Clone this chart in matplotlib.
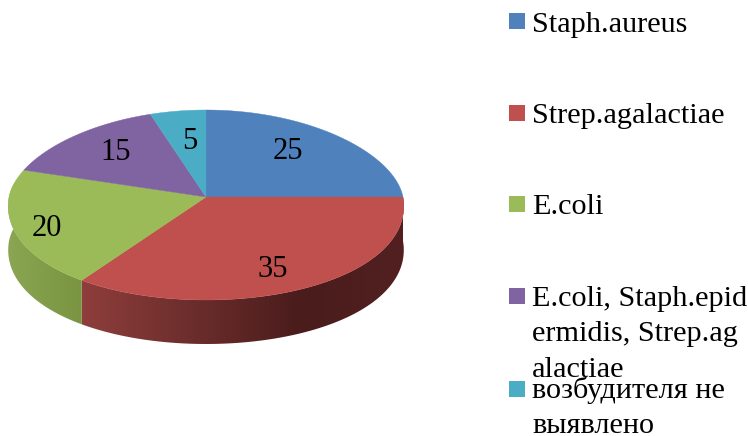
import numpy as np
import matplotlib
matplotlib.use('Agg')
import matplotlib.pyplot as plt
from matplotlib.patches import Polygon

# share of samples per pathogen, %
names = ['Staph.aureus', 'Strep.agalactiae', 'E.coli',
         'E.coli, Staph.epid\nermidis, Strep.ag\nalactiae',
         'возбудителя не\nвыявлено']
values = [25, 35, 20, 15, 5]
colors = ['#4F81BD', '#C0504D', '#9BBB59', '#8064A2', '#4BACC6']

plt.rcParams['font.family'] = ['Liberation Serif', 'DejaVu Serif']

# pie geometry in pixels; the back half looks flatter and narrower than the front
cx, cy = 206, 197
rx = 197
ry_back = 87
ry_front = 103
persp = 0.09
depth = 44


def project(theta):
    # theta runs clockwise from 12 o'clock, in degrees
    t = np.radians(theta)
    c = np.cos(t)
    ry = np.where(c > 0, ry_back, ry_front)
    return cx + rx * np.sin(t) * (1 - persp * c), cy - ry * c


# wall shading by x position, one colour ramp per visible slice
side_stops = {
    1: [(82, (142, 62, 60)), (200, (105, 44, 43)), (300, (74, 28, 28)), (404, (82, 32, 32))],
    2: [(8, (138, 166, 82)), (82, (122, 148, 66))],
}

fig = plt.figure(figsize=(7.48, 4.36), dpi=100)
ax = fig.add_axes([0, 0, 1, 1])

edges = np.concatenate([[0], np.cumsum(values)]) * 360 / sum(values)

# outer wall of the slices that face the viewer
for i, stops in side_stops.items():
    th = np.linspace(edges[i], min(edges[i + 1], 280), 120)
    x, y = project(th)
    wall = np.c_[np.r_[x, x[::-1]], np.r_[y, y[::-1] + depth]]
    xs = np.arange(x.min() - 1, x.max() + 2)
    stop_x, stop_rgb = zip(*stops)
    stop_rgb = np.array(stop_rgb) / 255
    ramp = np.stack([np.interp(xs, stop_x, stop_rgb[:, k]) for k in range(3)], axis=1)
    im = ax.imshow(ramp[None, :, :], extent=(xs[0], xs[-1], y.max() + depth + 1, y.min() - 1),
                   aspect='auto', zorder=1, interpolation='bilinear')
    im.set_clip_path(Polygon(wall, transform=ax.transData))

# top face
for i, c in enumerate(colors):
    th = np.linspace(edges[i], edges[i + 1], 80)
    x, y = project(th)
    ax.fill(np.r_[cx, x], np.r_[cy, y], color=c, lw=0.3, zorder=2)

# value labels
label_pos = [(288, 159), (273, 277), (47, 236), (116, 160), (190, 149)]
for v, (lx, ly) in zip(values, label_pos):
    ax.text(lx, ly, str(v), fontsize=22, ha='center', va='baseline',
            color='black', zorder=3)

# legend
swatch_y = [13, 105, 196, 288, 381]
text_y = [32, 123, 214, 306, 398]
for name, c, sy, ty in zip(names, colors, swatch_y, text_y):
    ax.fill([509, 525, 525, 509], [sy, sy, sy + 16, sy + 16], color=c, lw=0)
    for n, line in enumerate(name.split('\n')):
        ax.text(532, ty + n * 35.3, line, fontsize=21.8, ha='left',
                va='baseline', color='black', clip_on=False)

ax.set_xlim(0, 748)
ax.set_ylim(436, 0)
ax.axis('off')

fig.savefig('out.png', dpi=100)
